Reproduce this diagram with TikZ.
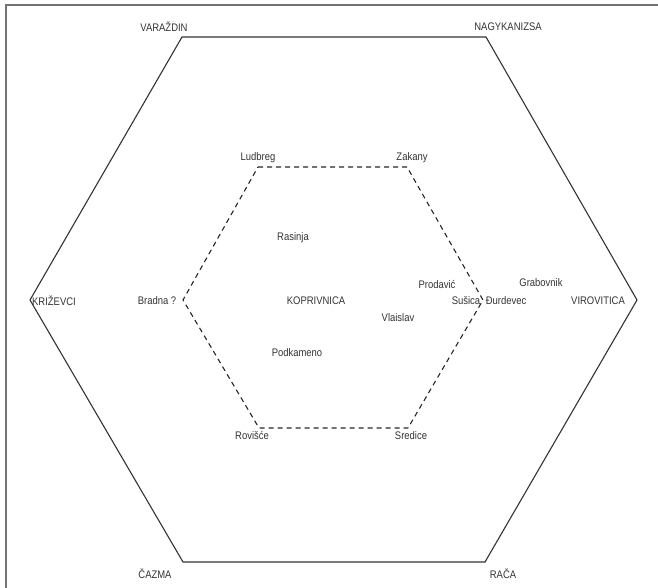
\documentclass[tikz,border=0pt]{standalone}
\usepackage{fontspec}
\setmainfont[FakeStretch=0.86]{Liberation Sans}
\usetikzlibrary{positioning}

\begin{document}
\begin{tikzpicture}[x=1pt, y=-1pt,
    every node/.style={font=\fontsize{11}{13}\selectfont, text=black!80, inner sep=1pt},
    outer/.style={draw=black!80, line width=1.1pt, line join=miter},
    inner/.style={draw=black!85, line width=1.1pt, dash pattern=on 5pt off 4pt}]
    \useasboundingbox (0,0) rectangle (658,588);

    % draw frame
    \draw[black!55, line width=1.4pt] (6,588) -- (6,5) -- (658,5);

    % outer hexagon
    \coordinate (varazdin) at (182,37);
    \coordinate (nagyk) at (486,37);
    \coordinate (virov) at (637,300);
    \coordinate (raca) at (485,562);
    \coordinate (cazma) at (183,562);
    \coordinate (krizevci) at (30,300);
    \draw[outer] (varazdin) -- (nagyk) -- (virov) -- (raca) -- (cazma) -- (krizevci) -- cycle;

    % inner hexagon
    \coordinate (ludbreg) at (258,167);
    \coordinate (zakany) at (407,167);
    \coordinate (susica) at (483,300);
    \coordinate (sredice) at (408,428);
    \coordinate (rovisce) at (259,428);
    \coordinate (bradna) at (183,300);
    \draw[inner] (ludbreg) -- (zakany) -- (susica) -- (sredice) -- (rovisce) -- (bradna) -- cycle;

    % draw outer names
    \node (varazdinL) at (164,27) {VARAŽDIN};
    \node (nagykL) at (508,27) {NAGYKANIZSA};
    \node (krizevciL) at (54,301) {KRIŽEVCI};
    \node (virovL) at (598,301) {VIROVITICA};
    \node (cazmaL) at (155,574) {ČAZMA};
    \node (racaL) at (503,574) {RAČA};

    % draw inner names
    \node (ludbregL) at (258,158) {Ludbreg};
    \node (zakanyL) at (412,158) {Zakany};
    \node (bradnaL) at (157,301) {Bradna ?};
    \node (susicaL) at (466,301) {Sušica};
    \node (rovisceL) at (252,436) {Rovišće};
    \node (srediceL) at (411,436) {Sredice};

    % draw places
    \node (rasinja) at (293,238) {Rasinja};
    \node (koprivnica) at (316,301) {KOPRIVNICA};
    \node (vlaislav) at (398,318) {Vlaislav};
    \node (podkameno) at (297,353) {Podkameno};
    \node (prodavic) at (437,285) {Prodavić};
    \node (durdevec) at (506,301) {Đurdevec};
    \node (grabovnik) at (541,283) {Grabovnik};
\end{tikzpicture}
\end{document}
